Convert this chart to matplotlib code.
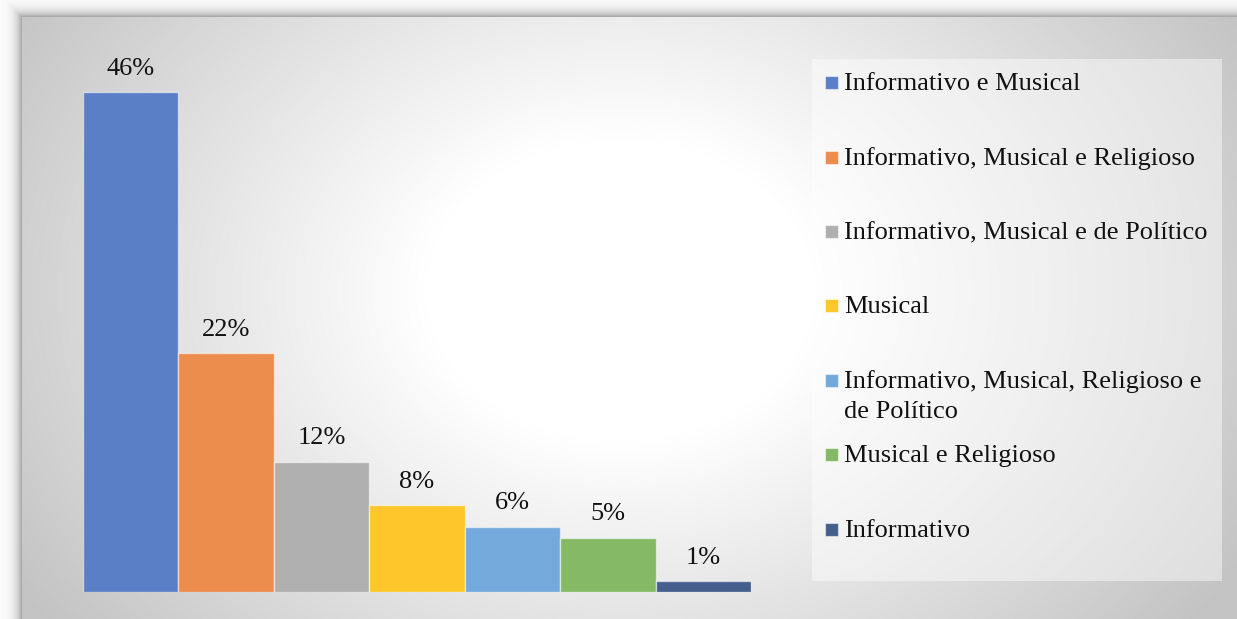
import numpy as np
import matplotlib.pyplot as plt
from matplotlib.patches import Rectangle

# Tipos de programação e percentuais
categorias = [
    "Informativo e Musical",
    "Informativo, Musical e Religioso",
    "Informativo, Musical e de Político",
    "Musical",
    "Informativo, Musical, Religioso e\nde Político",
    "Musical e Religioso",
    "Informativo",
]
percentuais = [46, 22, 12, 8, 6, 5, 1]
rotulos = [f"{p}%" for p in percentuais]
cores = ["#5b7fc6", "#ec8c4d", "#b0b0b0", "#fdc62b", "#74a9db", "#86b965", "#455f8c"]

plt.rcParams['font.family'] = ['Liberation Serif', 'DejaVu Serif']

W, H = 1237, 619
fig = plt.figure(figsize=(W / 100, H / 100), dpi=100)
fig.patch.set_facecolor("white")

# fundo: moldura com sombra e degradê radial
yy, xx = np.mgrid[0:H, 0:W].astype(float)
bx, by = 22, 17
d = np.sqrt(((xx - 620) / 650) ** 2 + ((yy - 290) / 500) ** 2)
grad = np.clip(255 - 52 * np.clip((d - 0.3) / 0.7, 0, None), 195, 255)
dist_out = np.maximum(bx - xx, by - yy)
sombra = 255 - 100 * np.exp(-np.clip(dist_out, 0, None) / 6.0)
bg = np.where((xx >= bx) & (yy >= by), grad, sombra)
bg_ax = fig.add_axes([0, 0, 1, 1])
bg_ax.imshow(np.dstack([bg, bg, bg]) / 255, aspect="auto", extent=[0, W, H, 0])
bg_ax.set_xlim(0, W)
bg_ax.set_ylim(H, 0)
bg_ax.axis("off")

# caixa da legenda
bg_ax.add_patch(Rectangle((812, 59), 410, 522, facecolor="white", alpha=0.45,
                          edgecolor="none"))

# gráfico de barras
x0, x1, ybase, ytop = 83, 751, 592, 49
ax = fig.add_axes([x0 / W, (H - ybase) / H, (x1 - x0) / W, (ybase - ytop) / H])
ax.patch.set_alpha(0)
pos = np.arange(len(percentuais))
ax.bar(pos, percentuais, width=1.0, color=cores,
       edgecolor=(1, 1, 1, 0.55), linewidth=1.0)
for p, v, r in zip(pos, percentuais, rotulos):
    ax.annotate(r, (p, v), xytext=(0, 12.5), textcoords="offset points",
                ha="center", va="baseline", fontsize=19, color="#111111")
ax.set_xlim(-0.5, len(percentuais) - 0.5)
ax.set_ylim(0, 50)
ax.axis("off")

# legenda desenhada à mão (linha de base da primeira linha de cada item, em pixels)
bases = [90, 165, 239, 313, 388, 462, 537]
for nome, cor, yb in zip(categorias, cores, bases):
    bg_ax.add_patch(Rectangle((825, yb - 14), 13, 13, facecolor=cor,
                              edgecolor=(1, 1, 1, 0.5), linewidth=0.8))
    for i, linha in enumerate(nome.split("\n")):
        bg_ax.text(844, yb + 30 * i, linha, fontsize=19, color="#111111",
                   ha="left", va="baseline")

fig.savefig("out.png", dpi=100)
